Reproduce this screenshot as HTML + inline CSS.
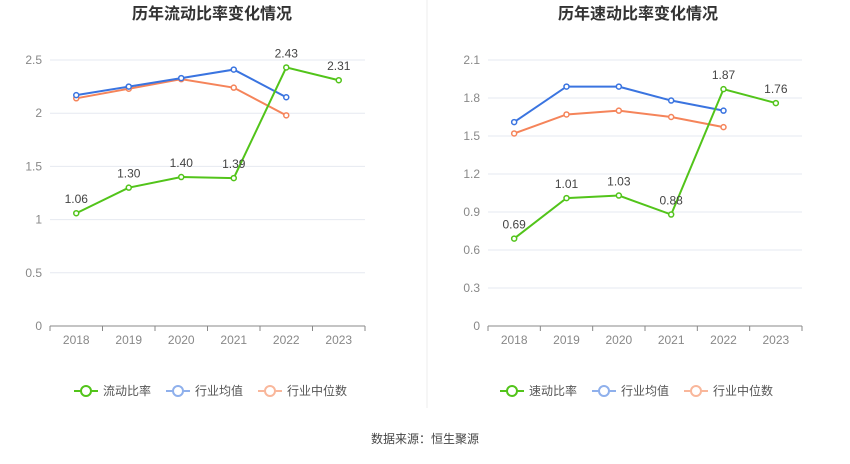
<!DOCTYPE html>
<html><head><meta charset="utf-8"><style>
body{margin:0;background:#fff;font-family:"Liberation Sans","Noto Sans CJK SC",sans-serif;}
#wrap{position:relative;width:850px;height:459px;}
</style></head><body>
<div id="wrap">
<svg id="svg" width="850" height="459" xmlns="http://www.w3.org/2000/svg">
<line x1="427" y1="0" x2="427" y2="408" stroke="#eeeeee"/>
<text x="425" y="443" text-anchor="middle" font-size="12" fill="#444">数据来源：恒生聚源</text>
</svg>
</div>
<script>
const categories = ["2018","2019","2020","2021","2022","2023"];
const leftSelf = [1.06,1.30,1.40,1.39,2.43,2.31];
const leftAvg = [2.17,2.25,2.33,2.41,2.15];
const leftMed = [2.14,2.23,2.32,2.24,1.98];
const leftTicks = [0,0.5,1,1.5,2,2.5];
const leftTickLabels = ["0","0.5","1","1.5","2","2.5"];
const rightSelf = [0.69,1.01,1.03,0.88,1.87,1.76];
const rightAvg = [1.61,1.89,1.89,1.78,1.70];
const rightMed = [1.52,1.67,1.70,1.65,1.57];
const rightTicks = [0,0.3,0.6,0.9,1.2,1.5,1.8,2.1];
const rightTickLabels = ["0","0.3","0.6","0.9","1.2","1.5","1.8","2.1"];

const NS="http://www.w3.org/2000/svg";
const svg=document.getElementById('svg');
function mk(tag,attrs,name,parent){const e=document.createElementNS(NS,tag);for(const k in attrs)e.setAttribute(k,attrs[k]);


(parent||svg).appendChild(e);return e;}

function chart(prefix,title,cx,x0,x1,maxV,ticks,tickLabels,self,avg,med,selfName){
  const y0=326,yTop=60;
  const band=(x1-x0)/categories.length;
  const xs=i=>x0+band*(i+0.5);
  const ys=v=>y0-(v/maxV)*(y0-yTop);
  const g=mk('g',{},prefix+'-chart');
  const t=mk('text',{x:cx,y:19,'text-anchor':'middle','font-size':16,'font-weight':'bold',fill:'#333'},prefix+'-title',g);t.textContent=title;
  ticks.forEach((v,i)=>{
    if(v>0) mk('line',{x1:x0,x2:x1,y1:ys(v),y2:ys(v),stroke:'#e6e9f0'},prefix+'-gridline',g);
    const l=mk('text',{x:x0-8,y:ys(v)+4,'text-anchor':'end','font-size':12,fill:'#888'},prefix+'-y-tick-label',g);l.textContent=tickLabels[i];
  });
  mk('line',{x1:x0,x2:x1,y1:y0,y2:y0,stroke:'#888'},prefix+'-x-axis',g);
  categories.forEach((c,i)=>{
    mk('line',{x1:x0+band*i,x2:x0+band*i,y1:y0,y2:y0+5,stroke:'#888'},prefix+'-x-tick',g);
    const l=mk('text',{x:xs(i),y:y0+18,'text-anchor':'middle','font-size':12,fill:'#888'},prefix+'-x-tick-label',g);l.textContent=c;
  });
  mk('line',{x1:x1,x2:x1,y1:y0,y2:y0+5,stroke:'#888'},prefix+'-x-tick',g);
  function series(vals,color,name,labels){
    mk('polyline',{points:vals.map((v,i)=>xs(i)+','+ys(v)).join(' '),fill:'none',stroke:color,'stroke-width':2},prefix+'-'+name+'-line',g);
    vals.forEach((v,i)=>{
      mk('circle',{cx:xs(i),cy:ys(v),r:2.5,fill:'#fff',stroke:color,'stroke-width':1.5},prefix+'-'+name+'-point',g);
      if(labels){const l=mk('text',{x:xs(i),y:ys(v)-10,'text-anchor':'middle','font-size':12,fill:'#444'},prefix+'-'+name+'-value-label',g);l.textContent=v.toFixed(2);}
    });
  }
  series(med,'#f5845a','median');
  series(avg,'#3a74e0','average');
  series(self,'#52c41a','self',true);
  const ly=391;
  const items=[[selfName,'#52c41a'],['行业均值','#8fb0ec'],['行业中位数','#f9b79b']];
  let lx=cx-138;
  items.forEach((it,k)=>{
    const lg=mk('g',{},prefix+'-legend-entry',g);
    mk('line',{x1:lx,x2:lx+24,y1:ly,y2:ly,stroke:it[1],'stroke-width':2},prefix+'-legend-line',lg);
    mk('circle',{cx:lx+12,cy:ly,r:5,fill:'#fff',stroke:it[1],'stroke-width':2},prefix+'-legend-marker',lg);
    const tt=mk('text',{x:lx+29,y:ly+4,'font-size':12,fill:'#555'},prefix+'-legend-label',lg);tt.textContent=it[0];
    lx+=29+it[0].length*12+15;
  });
}
chart('left','历年流动比率变化情况',212,50,365,2.5,leftTicks,leftTickLabels,leftSelf,leftAvg,leftMed,'流动比率');
chart('right','历年速动比率变化情况',638,488,802,2.1,rightTicks,rightTickLabels,rightSelf,rightAvg,rightMed,'速动比率');
</script>
</body></html>
